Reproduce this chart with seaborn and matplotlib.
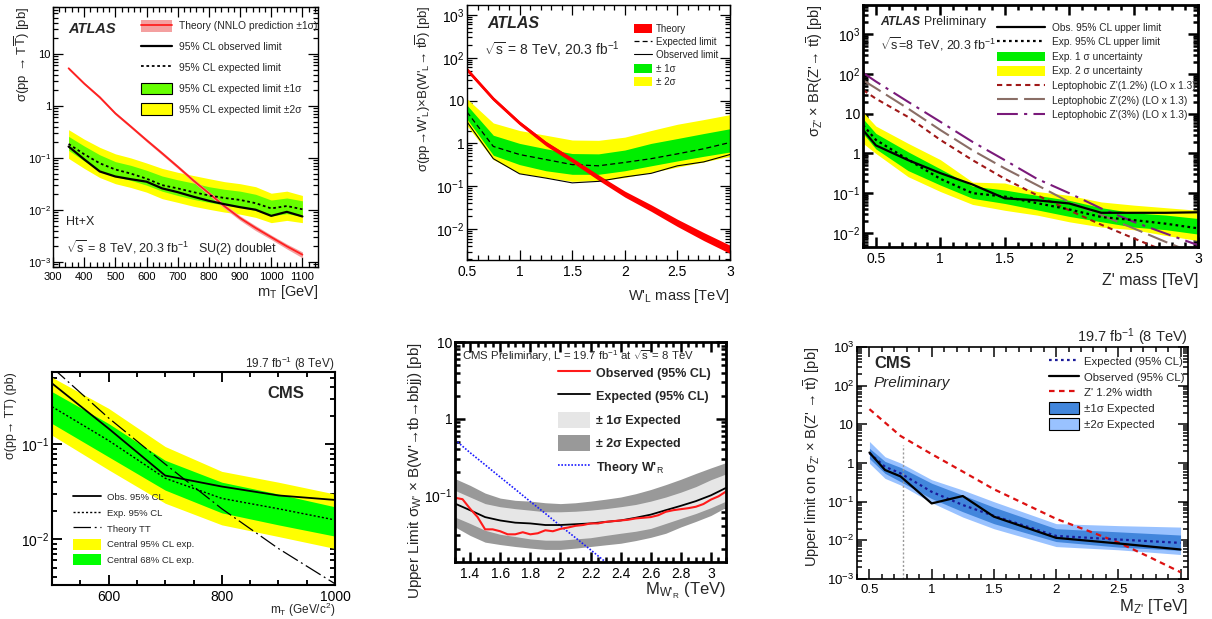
import numpy as np
import matplotlib
matplotlib.use("Agg")
import matplotlib.pyplot as plt
from matplotlib.lines import Line2D
from matplotlib.patches import Patch
from matplotlib.ticker import FixedLocator, FuncFormatter, LogLocator, MultipleLocator, NullFormatter
import seaborn as sns

sns.set_theme(style="ticks")
plt.rcParams['font.family'] = ['Liberation Sans', 'DejaVu Sans']
plt.rcParams['mathtext.fontset'] = 'custom'
plt.rcParams['mathtext.rm'] = 'Liberation Sans'
plt.rcParams['mathtext.it'] = 'Liberation Sans:italic'
plt.rcParams['mathtext.bf'] = 'Liberation Sans:bold'

# ---------------- Panel 1 : ATLAS T Tbar (Ht+X) ----------------
p1_mass = [350, 400, 450, 500, 550, 600, 650, 700, 750, 800, 850, 900, 950, 1000, 1050, 1100]
p1_obs = [0.166, 0.094, 0.055, 0.044, 0.039, 0.035, 0.026, 0.022, 0.018, 0.015, 0.0129, 0.0113, 0.0101, 0.0077, 0.0092, 0.0075]
p1_exp = [0.186, 0.118, 0.079, 0.060, 0.050, 0.040, 0.030, 0.026, 0.022, 0.019, 0.017, 0.0156, 0.0135, 0.0107, 0.0119, 0.0103]
p1_s1_hi = [0.26, 0.17, 0.115, 0.085, 0.072, 0.058, 0.045, 0.038, 0.033, 0.028, 0.025, 0.023, 0.020, 0.0155, 0.017, 0.0150]
p1_s1_lo = [0.140, 0.088, 0.058, 0.044, 0.037, 0.030, 0.023, 0.019, 0.016, 0.0140, 0.0124, 0.0113, 0.0098, 0.0077, 0.0085, 0.0075]
p1_s2_hi = [0.35, 0.23, 0.16, 0.12, 0.10, 0.08, 0.063, 0.053, 0.046, 0.040, 0.035, 0.032, 0.028, 0.021, 0.023, 0.019]
p1_s2_lo = [0.098, 0.063, 0.042, 0.032, 0.027, 0.022, 0.0165, 0.014, 0.0118, 0.0103, 0.0091, 0.0083, 0.0072, 0.0057, 0.0063, 0.0057]
p1_theory = [5.3, 2.7, 1.47, 0.72, 0.40, 0.22, 0.123, 0.068, 0.037, 0.021, 0.0118, 0.0070, 0.0045, 0.0030, 0.0020, 0.00138]
p1_theory_lo = [5.0, 2.55, 1.38, 0.675, 0.375, 0.205, 0.114, 0.063, 0.034, 0.0192, 0.0107, 0.0063, 0.0040, 0.0027, 0.00178, 0.00120]
p1_theory_hi = [5.6, 2.85, 1.56, 0.765, 0.425, 0.235, 0.132, 0.073, 0.040, 0.0228, 0.0129, 0.0077, 0.0050, 0.0033, 0.00222, 0.00156]

# ---------------- Panel 2 : ATLAS W'_L ----------------
p2_mass = [0.5, 0.75, 1.0, 1.25, 1.5, 1.75, 2.0, 2.25, 2.5, 2.75, 3.0]
p2_obs = [3.2, 0.44, 0.195, 0.155, 0.12, 0.13, 0.165, 0.2, 0.3, 0.37, 0.55]
p2_exp = [5.4, 0.85, 0.55, 0.42, 0.32, 0.30, 0.36, 0.44, 0.57, 0.75, 1.05]
p2_s1_hi = [7.8, 1.55, 1.0, 0.75, 0.58, 0.57, 0.7, 1.0, 1.3, 1.7, 2.2]
p2_s1_lo = [3.7, 0.53, 0.32, 0.23, 0.19, 0.19, 0.23, 0.3, 0.39, 0.5, 0.63]
p2_s2_hi = [11, 3.0, 2.0, 1.55, 1.2, 1.18, 1.4, 2.0, 2.8, 3.6, 4.7]
p2_s2_lo = [2.6, 0.42, 0.2, 0.16, 0.13, 0.135, 0.16, 0.21, 0.28, 0.37, 0.5]
p2_theory = [53, 11, 3.0, 1.0, 0.41, 0.16, 0.066, 0.031, 0.014, 0.0067, 0.0034]
p2_theory_lo = [48, 10, 2.7, 0.88, 0.36, 0.138, 0.056, 0.026, 0.0115, 0.0054, 0.0027]
p2_theory_hi = [58, 12, 3.3, 1.12, 0.46, 0.184, 0.077, 0.037, 0.017, 0.0083, 0.0042]

# ---------------- Panel 3 : ATLAS Z' ----------------
p3_mass = [0.4, 0.5, 0.75, 1.0, 1.25, 1.5, 1.75, 2.0, 2.25, 2.5, 2.75, 3.0]
p3_obs = [3.9, 1.6, 0.68, 0.32, 0.165, 0.074, 0.066, 0.055, 0.032, 0.032, 0.032, 0.033]
p3_exp = [5.2, 2.2, 0.7, 0.23, 0.10, 0.082, 0.056, 0.039, 0.025, 0.021, 0.017, 0.013]
p3_s1_hi = [7.5, 3.2, 1.1, 0.41, 0.15, 0.12, 0.088, 0.066, 0.043, 0.032, 0.028, 0.023]
p3_s1_lo = [3.2, 1.3, 0.37, 0.16, 0.074, 0.055, 0.038, 0.026, 0.019, 0.014, 0.012, 0.0093]
p3_s2_hi = [11, 4.9, 1.8, 0.7, 0.19, 0.18, 0.11, 0.088, 0.06, 0.05, 0.043, 0.037]
p3_s2_lo = [1.8, 1.0, 0.26, 0.11, 0.052, 0.037, 0.028, 0.019, 0.014, 0.012, 0.0086, 0.0064]
p3_lep_mass = [0.4, 0.5, 0.75, 1.0, 1.25, 1.5, 1.75, 2.0, 2.25, 2.5, 2.75, 3.0]
p3_lep12 = [40, 24, 8.3, 2.2, 0.68, 0.23, 0.089, 0.037, 0.016, 0.0073, 0.0034, 0.0016]
p3_lep2 = [70, 44, 13.5, 3.9, 1.2, 0.42, 0.16, 0.06, 0.028, 0.013, 0.0059, 0.0028]
p3_lep3 = [108, 65, 20, 6.3, 1.96, 0.68, 0.23, 0.1, 0.041, 0.019, 0.0096, 0.0049]

# ---------------- Panel 4 : CMS T Tbar ----------------
p4_mass = [500, 600, 700, 800, 900, 1000]
p4_obs = [0.44, 0.147, 0.047, 0.036, 0.029, 0.026]
p4_exp = [0.25, 0.11, 0.044, 0.027, 0.021, 0.016]
p4_s1_hi = [0.36, 0.166, 0.068, 0.040, 0.030, 0.022]
p4_s1_lo = [0.166, 0.074, 0.033, 0.019, 0.0142, 0.0108]
p4_s2_hi = [0.51, 0.24, 0.095, 0.052, 0.040, 0.030]
p4_s2_lo = [0.125, 0.054, 0.024, 0.0142, 0.0107, 0.008]
p4_theory = [0.65, 0.19, 0.062, 0.021, 0.0080, 0.0034]

# ---------------- Panel 5 : CMS W'_R ----------------
p5_obs_mass = [1.3, 1.35, 1.4, 1.45, 1.5, 1.55, 1.6, 1.65, 1.7, 1.75, 1.8, 1.85, 1.9, 1.95, 2.0,
               2.05, 2.1, 2.15, 2.2, 2.25, 2.3, 2.35, 2.4, 2.45, 2.5, 2.55, 2.6, 2.65, 2.7, 2.75,
               2.8, 2.85, 2.9, 2.95, 3.0, 3.05, 3.1]
p5_obs = [0.093, 0.089, 0.067, 0.052, 0.036, 0.036, 0.034, 0.031, 0.031, 0.033, 0.031, 0.032, 0.035, 0.034, 0.0365,
          0.038, 0.040, 0.041, 0.043, 0.043, 0.045, 0.046, 0.047, 0.048, 0.050, 0.051, 0.052, 0.055, 0.061, 0.064,
          0.066, 0.068, 0.071, 0.077, 0.088, 0.097, 0.112]
p5_mass = [1.3, 1.4, 1.5, 1.6, 1.7, 1.8, 1.9, 2.0, 2.1, 2.2, 2.3, 2.4, 2.5, 2.6, 2.7, 2.8, 2.9, 3.0, 3.1]
p5_exp = [0.078, 0.064, 0.052, 0.047, 0.044, 0.043, 0.041, 0.041, 0.042, 0.043, 0.045, 0.047, 0.051, 0.056, 0.064, 0.073, 0.084, 0.1, 0.125]
p5_s1_hi = [0.116, 0.095, 0.078, 0.071, 0.067, 0.064, 0.061, 0.061, 0.062, 0.064, 0.067, 0.071, 0.076, 0.084, 0.095, 0.11, 0.13, 0.16, 0.19]
p5_s1_lo = [0.052, 0.043, 0.035, 0.031, 0.029, 0.027, 0.026, 0.026, 0.027, 0.028, 0.030, 0.032, 0.034, 0.037, 0.043, 0.050, 0.058, 0.069, 0.084]
p5_s2_hi = [0.165, 0.135, 0.107, 0.092, 0.086, 0.084, 0.080, 0.078, 0.080, 0.084, 0.089, 0.095, 0.105, 0.119, 0.138, 0.162, 0.193, 0.228, 0.267]
p5_s2_lo = [0.0387, 0.030, 0.0245, 0.0228, 0.0215, 0.0205, 0.0197, 0.0197, 0.0205, 0.0215, 0.0226, 0.0237, 0.0257, 0.0283, 0.032, 0.0387, 0.0457, 0.0546, 0.0698]
p5_th_mass = [1.3, 1.4, 1.5, 1.6, 1.7, 1.8, 1.9, 2.0, 2.1, 2.2, 2.3]
p5_theory = [0.53, 0.36, 0.25, 0.173, 0.12, 0.083, 0.058, 0.040, 0.028, 0.0195, 0.0135]

# ---------------- Panel 6 : CMS Z' ----------------
p6_mass = [0.5, 0.625, 0.75, 1.0, 1.25, 1.5, 2.0, 2.5, 3.0]
p6_obs = [1.86, 0.66, 0.45, 0.09, 0.14, 0.041, 0.0116, 0.0083, 0.0058]
p6_exp = [1.8, 0.8, 0.54, 0.18, 0.082, 0.043, 0.013, 0.0105, 0.0086]
p6_s1_hi = [2.4, 1.1, 0.77, 0.30, 0.147, 0.072, 0.020, 0.0166, 0.0137]
p6_s1_lo = [1.3, 0.54, 0.33, 0.12, 0.055, 0.027, 0.0093, 0.0067, 0.0055]
p6_s2_hi = [3.6, 1.45, 1.0, 0.37, 0.20, 0.10, 0.027, 0.024, 0.022]
p6_s2_lo = [0.98, 0.40, 0.27, 0.094, 0.040, 0.020, 0.0069, 0.0057, 0.0043]
p6_zp_mass = [0.5, 0.75, 1.0, 1.25, 1.5, 1.75, 2.0, 2.25, 2.5, 2.75, 3.0]
p6_zp = [24.7, 5.0, 1.7, 0.6, 0.21, 0.087, 0.036, 0.018, 0.0088, 0.0037, 0.0015]
p6_vline_x = 0.77
p6_vline_top = 3.0

# ---------------- figure ----------------
W, H = 1212, 619
fig = plt.figure(figsize=(W / 100, H / 100), dpi=100)
fig.patch.set_facecolor('white')

ZP = r"\mathrm{Z}\text{'}"
WP = r"\mathrm{W}\text{'}"


def add_ax(l, t, r, b):
    return fig.add_axes([l / W, 1 - b / H, (r - l) / W, (b - t) / H])


def ftext(x, y, s, **kw):
    kw.setdefault('va', 'center')
    return fig.text(x / W, 1 - y / H, s, **kw)


def logfmt(v, pos):
    e = int(round(np.log10(v)))
    if e == 0:
        return "1"
    if e == 1:
        return "10"
    return r"$10^{%d}$" % e


def style(ax, decades, fs, lw=1.0, xmaj=None, xmin=None, ypad=2.0):
    ax.set_yscale('log')
    ax.yaxis.set_major_locator(FixedLocator([10.0 ** d for d in decades]))
    ax.yaxis.set_major_formatter(FuncFormatter(logfmt))
    ax.yaxis.set_minor_locator(LogLocator(base=10, subs=np.arange(2, 10), numticks=30))
    ax.yaxis.set_minor_formatter(NullFormatter())
    if xmaj is not None:
        ax.xaxis.set_major_locator(MultipleLocator(xmaj))
    if xmin is not None:
        ax.xaxis.set_minor_locator(MultipleLocator(xmin))
    ax.tick_params(which='both', direction='in', top=True, right=True, labelsize=fs,
                   width=lw * 0.9, colors='black')
    ax.tick_params(axis='y', which='major', pad=ypad)
    ax.tick_params(which='major', length=7)
    ax.tick_params(which='minor', length=3.5)
    for s in ax.spines.values():
        s.set_linewidth(lw)
        s.set_color('black')
    ax.set_facecolor('white')
    ax.grid(False)


def line(ax, x, y, **kw):
    sns.lineplot(x=x, y=y, ax=ax, estimator=None, sort=False, legend=False, **kw)


# ======== Panel 1 ========
ax1 = add_ax(53, 7, 318, 267)
ax1.fill_between(p1_mass, p1_s2_lo, p1_s2_hi, color='#ffff00', lw=0)
ax1.fill_between(p1_mass, p1_s1_lo, p1_s1_hi, color='#66ff00', lw=0)
ax1.fill_between(p1_mass, p1_theory_lo, p1_theory_hi, color='#f4a0a0', lw=0)
line(ax1, p1_mass, p1_theory, color='#ff2020', lw=1.3)
line(ax1, p1_mass, p1_obs, color='black', lw=1.6)
line(ax1, p1_mass, p1_exp, color='black', lw=1.3, linestyle=(0, (1.5, 1.5)))
ax1.set_xlim(300, 1150)
ax1.set_ylim(8e-4, 80)
style(ax1, [-3, -2, -1, 0, 1], 8, lw=1.0, xmaj=100, xmin=20, ypad=1.5)
ax1.set_xlabel(r"m$_{\mathrm{T}}$ [GeV]", loc='right', fontsize=10.5, labelpad=1)
ax1.set_ylabel(r"σ(pp → T$\overline{\mathrm{T}}$) [pb]", loc='top', fontsize=9.5)
ax1.yaxis.set_label_coords(-0.08, 1.0)
h1 = [(Patch(facecolor='#f4a0a0', edgecolor='none'), Line2D([], [], color='#ff2020', lw=1.3)),
      Line2D([], [], color='black', lw=1.6),
      Line2D([], [], color='black', lw=1.3, linestyle=(0, (1.5, 1.5))),
      Patch(facecolor='#66ff00', edgecolor='black', lw=0.8),
      Patch(facecolor='#ffff00', edgecolor='black', lw=0.8)]
l1 = ["Theory (NNLO prediction ±1σ)", "95% CL observed limit", "95% CL expected limit",
      "95% CL expected limit ±1σ", "95% CL expected limit ±2σ"]
ax1.legend(h1, l1, loc='upper left', bbox_to_anchor=(0.315, 0.965), frameon=False, fontsize=7.4,
           handlelength=3.1, handleheight=1.35, labelspacing=0.9, handletextpad=0.6, borderaxespad=0)
ftext(68, 29, "ATLAS", fontsize=10.5, fontweight='bold', fontstyle='italic')
ftext(66, 222, "Ht+X", fontsize=9)
ftext(66, 248, r"$\sqrt{\mathrm{s}}$ = 8 TeV, 20.3 fb$^{\mathrm{-1}}$   SU(2) doublet", fontsize=9)

# ======== Panel 2 ========
ax2 = add_ax(467, 5, 730, 260)
ax2.fill_between(p2_mass, p2_s2_lo, p2_s2_hi, color='#ffff00', lw=0)
ax2.fill_between(p2_mass, p2_s1_lo, p2_s1_hi, color='#00ee00', lw=0)
line(ax2, p2_mass, p2_obs, color='black', lw=0.8)
line(ax2, p2_mass, p2_exp, color='black', lw=0.9, linestyle=(0, (4, 2.5)))
ax2.fill_between(p2_mass, p2_theory_lo, p2_theory_hi, color='#ff0000', lw=0)
line(ax2, p2_mass, p2_theory, color='#ff0000', lw=2.0)
ax2.set_xlim(0.5, 3.0)
ax2.set_ylim(1.9e-3, 1700)
style(ax2, [-2, -1, 0, 1, 2, 3], 10, lw=1.0, xmaj=0.5, xmin=0.1)
ax2.xaxis.set_major_formatter(FuncFormatter(lambda v, p: ("%g" % v)))
ax2.set_xlabel(r"W'$_{\mathrm{L}}$ mass [TeV]", loc='right', fontsize=10.5, labelpad=6)
ax2.set_ylabel(r"σ(pp→W'$_{\mathrm{L}}$)×B(W'$_{\mathrm{L}}$→ t$\overline{\mathrm{b}}$) [pb]",
               loc='top', fontsize=9.5, labelpad=2)
h2 = [Patch(facecolor='#ff0000', edgecolor='none'),
      Line2D([], [], color='black', lw=0.9, linestyle=(0, (4, 2.5))),
      Line2D([], [], color='black', lw=0.8),
      Patch(facecolor='#00ee00', edgecolor='none'),
      Patch(facecolor='#ffff00', edgecolor='none')]
l2 = ["Theory", "Expected limit", "Observed limit", "± 1σ", "± 2σ"]
ax2.legend(h2, l2, loc='upper left', bbox_to_anchor=(0.62, 0.94), frameon=False, fontsize=7.0,
           handlelength=1.9, handleheight=1.05, labelspacing=0.32, handletextpad=0.35, borderaxespad=0)
ftext(487, 23, "ATLAS", fontsize=11.5, fontweight='bold', fontstyle='italic')
ftext(484, 50, r"$\sqrt{\mathrm{s}}$ = 8 TeV, 20.3 fb$^{\mathrm{-1}}$", fontsize=10)

# ======== Panel 3 ========
ax3 = add_ax(863, 5, 1198, 247)
ax3.fill_between(p3_mass, p3_s2_lo, p3_s2_hi, color='#ffff00', lw=0)
ax3.fill_between(p3_mass, p3_s1_lo, p3_s1_hi, color='#00ee00', lw=0)
line(ax3, p3_lep_mass, p3_lep12, color='#a01818', lw=1.5, linestyle=(0, (2.5, 2)))
line(ax3, p3_lep_mass, p3_lep2, color='#8a6e66', lw=1.5, linestyle=(0, (10, 3)))
line(ax3, p3_lep_mass, p3_lep3, color='#7a1a7a', lw=1.5, linestyle=(0, (10, 3, 1.5, 3)))
line(ax3, p3_mass, p3_obs, color='black', lw=1.6)
line(ax3, p3_mass, p3_exp, color='black', lw=1.6, linestyle=(0, (1.2, 1.5)))
ax3.set_xlim(0.4, 3.0)
ax3.set_ylim(4.4e-3, 5500)
style(ax3, [-2, -1, 0, 1, 2, 3], 10, lw=2.0, xmaj=0.5, xmin=0.1)
ax3.xaxis.set_major_formatter(FuncFormatter(lambda v, p: ("%g" % v)))
ax3.set_xlabel("Z' mass [TeV]", loc='right', fontsize=11.5, labelpad=5)
ax3.set_ylabel(r"σ$_{" + ZP + r"}$ × BR(Z'→ t$\overline{\mathrm{t}}$) [pb]", loc='top', fontsize=10.5, labelpad=5)
h3 = [Line2D([], [], color='black', lw=1.6),
      Line2D([], [], color='black', lw=1.6, linestyle=(0, (1.2, 1.5))),
      Patch(facecolor='#00ee00', edgecolor='none'),
      Patch(facecolor='#ffff00', edgecolor='none'),
      Line2D([], [], color='#a01818', lw=1.5, linestyle=(0, (2.5, 2))),
      Line2D([], [], color='#8a6e66', lw=1.5, linestyle=(0, (10, 3))),
      Line2D([], [], color='#7a1a7a', lw=1.5, linestyle=(0, (10, 3, 1.5, 3)))]
l3 = ["Obs. 95% CL upper limit", "Exp. 95% CL upper limit", "Exp. 1 σ uncertainty",
      "Exp. 2 σ uncertainty", "Leptophobic Z'(1.2%) (LO x 1.3)", "Leptophobic Z'(2%) (LO x 1.3)",
      "Leptophobic Z'(3%) (LO x 1.3)"]
ax3.legend(h3, l3, loc='upper left', bbox_to_anchor=(0.387, 0.945), frameon=False, fontsize=7.3,
           handlelength=4.8, handleheight=1.1, labelspacing=0.42, handletextpad=0.7, borderaxespad=0)
ftext(880, 22, "ATLAS", fontsize=8.8, fontweight='bold', fontstyle='italic')
ftext(924, 22, "Preliminary", fontsize=8.8)
ftext(880, 44, r"$\sqrt{\mathrm{s}}$=8 TeV, 20.3 fb$^{\mathrm{-1}}$", fontsize=9.0)

# ======== Panel 4 ========
ax4 = add_ax(52, 372, 335, 585)
ax4.fill_between(p4_mass, p4_s2_lo, p4_s2_hi, color='#ffff00', lw=0)
ax4.fill_between(p4_mass, p4_s1_lo, p4_s1_hi, color='#00ff00', lw=0)
line(ax4, p4_mass, p4_theory, color='black', lw=0.9, linestyle=(0, (14, 3, 1.5, 3)))
line(ax4, p4_mass, p4_obs, color='black', lw=1.3)
line(ax4, p4_mass, p4_exp, color='black', lw=1.0, linestyle=(0, (1.5, 1.5)))
ax4.set_xlim(500, 1000)
ax4.set_ylim(3.3e-3, 0.58)
style(ax4, [-2, -1], 10, lw=1.5, xmaj=200, xmin=50)
ax4.set_xlabel(r"m$_{\mathrm{T}}$ (GeV/c$^{\mathrm{2}}$)", loc='right', fontsize=8.5, labelpad=-2)
ax4.set_ylabel("σ(pp→ TT) (pb)", loc='top', fontsize=9, labelpad=3)
h4 = [Line2D([], [], color='black', lw=1.3),
      Line2D([], [], color='black', lw=1.0, linestyle=(0, (1.5, 1.5))),
      Line2D([], [], color='black', lw=0.9, linestyle=(0, (14, 3, 1.5, 3))),
      Patch(facecolor='#ffff00', edgecolor='none'),
      Patch(facecolor='#00ff00', edgecolor='none')]
l4 = ["Obs. 95% CL", "Exp. 95% CL", "Theory TT", "Central 95% CL exp.", "Central 68% CL exp."]
ax4.legend(h4, l4, loc='upper left', bbox_to_anchor=(0.06, 0.455), frameon=False, fontsize=6.8,
           handlelength=3.0, handleheight=1.4, labelspacing=0.5, handletextpad=0.6, borderaxespad=0)
ftext(335, 364, r"19.7 fb$^{\mathrm{-1}}$ (8 TeV)", fontsize=8.5, ha='right')
ftext(304, 393, "CMS", fontsize=12, fontweight='bold', ha='right')

# ======== Panel 5 ========
ax5 = add_ax(455, 342, 726, 562)
ax5.fill_between(p5_mass, p5_s2_lo, p5_s2_hi, color='#999999', lw=0)
ax5.fill_between(p5_mass, p5_s1_lo, p5_s1_hi, color='#e6e6e6', lw=0)
line(ax5, p5_th_mass, p5_theory, color='#1a1aff', lw=1.2, linestyle=(0, (1, 1)))
line(ax5, p5_mass, p5_exp, color='black', lw=1.3)
line(ax5, p5_obs_mass, p5_obs, color='#ff1a1a', lw=1.5)
ax5.set_xlim(1.3, 3.1)
ax5.set_ylim(0.0135, 10)
style(ax5, [-1, 0, 1], 10, lw=2.0, xmaj=0.2, xmin=0.05)
ax5.xaxis.set_major_formatter(FuncFormatter(lambda v, p: ("%g" % round(v, 2))))
ax5.set_xlabel(r"M$_{" + WP + r"_{\mathrm{R}}}$ (TeV)", loc='right', fontsize=12, labelpad=0)
ax5.set_ylabel(r"Upper Limit σ$_{" + WP + r"}$ × B(W'→tb→bbjj) [pb]",
               loc='top', fontsize=11, labelpad=0)
h5 = [Line2D([], [], color='#ff1a1a', lw=1.5),
      Line2D([], [], color='black', lw=1.3),
      Patch(facecolor='#e6e6e6', edgecolor='none'),
      Patch(facecolor='#999999', edgecolor='none'),
      Line2D([], [], color='#1a1aff', lw=1.2, linestyle=(0, (1, 1)))]
l5 = ["Observed (95% CL)", "Expected (95% CL)", "± 1σ Expected", "± 2σ Expected",
      r"Theory W'$_{\mathrm{R}}$"]
ax5.legend(h5, l5, loc='upper left', bbox_to_anchor=(0.36, 0.92), frameon=False,
           prop={'weight': 'bold', 'size': 9}, handlelength=2.6, handleheight=1.6,
           labelspacing=0.6, handletextpad=0.5, borderaxespad=0)
ftext(462, 356, r"CMS Preliminary, L = 19.7 fb$^{\mathrm{-1}}$ at $\sqrt{\mathrm{s}}$ = 8 TeV", fontsize=8.2)

# ======== Panel 6 ========
ax6 = add_ax(857, 347, 1188, 579)
ax6.fill_between(p6_mass, p6_s2_lo, p6_s2_hi, color='#99c2ff', lw=0)
ax6.fill_between(p6_mass, p6_s1_lo, p6_s1_hi, color='#4286dc', lw=0)
line(ax6, p6_zp_mass, p6_zp, color='#dd1111', lw=1.6, linestyle=(0, (2.5, 2)))
ax6.plot([p6_vline_x, p6_vline_x], [1e-3, p6_vline_top], color='#999999', lw=1.0, linestyle=(0, (1.5, 1.5)))
line(ax6, p6_mass, p6_exp, color='#1a1a99', lw=1.6, linestyle=(0, (1.2, 1.5)))
line(ax6, p6_mass, p6_obs, color='black', lw=1.6)
ax6.set_xlim(0.4, 3.06)
ax6.set_ylim(1e-3, 1e3)
style(ax6, [-3, -2, -1, 0, 1, 2, 3], 9.5, lw=1.2, xmaj=0.5, xmin=0.1)
ax6.xaxis.set_major_formatter(FuncFormatter(lambda v, p: ("%g" % v)))
ax6.set_xlabel(r"M$_{" + ZP + r"}$ [TeV]", loc='right', fontsize=12, labelpad=1)
ax6.set_ylabel(r"Upper limit on σ$_{" + ZP + r"}$ × B(Z' → t$\overline{\mathrm{t}}$) [pb]",
               loc='top', fontsize=10.5, labelpad=4)
h6 = [Line2D([], [], color='#1a1a99', lw=1.6, linestyle=(0, (1.2, 1.5))),
      Line2D([], [], color='black', lw=1.6),
      Line2D([], [], color='#dd1111', lw=1.6, linestyle=(0, (2.5, 2))),
      Patch(facecolor='#4286dc', edgecolor='black', lw=0.8),
      Patch(facecolor='#99c2ff', edgecolor='black', lw=0.8)]
l6 = ["Expected (95% CL)", "Observed (95% CL)", "Z' 1.2% width", "±1σ Expected", "±2σ Expected"]
ax6.legend(h6, l6, loc='upper left', bbox_to_anchor=(0.565, 0.985), frameon=False, fontsize=8.2,
           handlelength=2.7, handleheight=1.25, labelspacing=0.32, handletextpad=0.45, borderaxespad=0)
ftext(1188, 337, r"19.7 fb$^{\mathrm{-1}}$ (8 TeV)", fontsize=10.5, ha='right')
ftext(874, 363, "CMS", fontsize=12, fontweight='bold')
ftext(874, 383, "Preliminary", fontsize=11, fontstyle='italic')

fig.savefig("out.png", dpi=100, facecolor='white')
